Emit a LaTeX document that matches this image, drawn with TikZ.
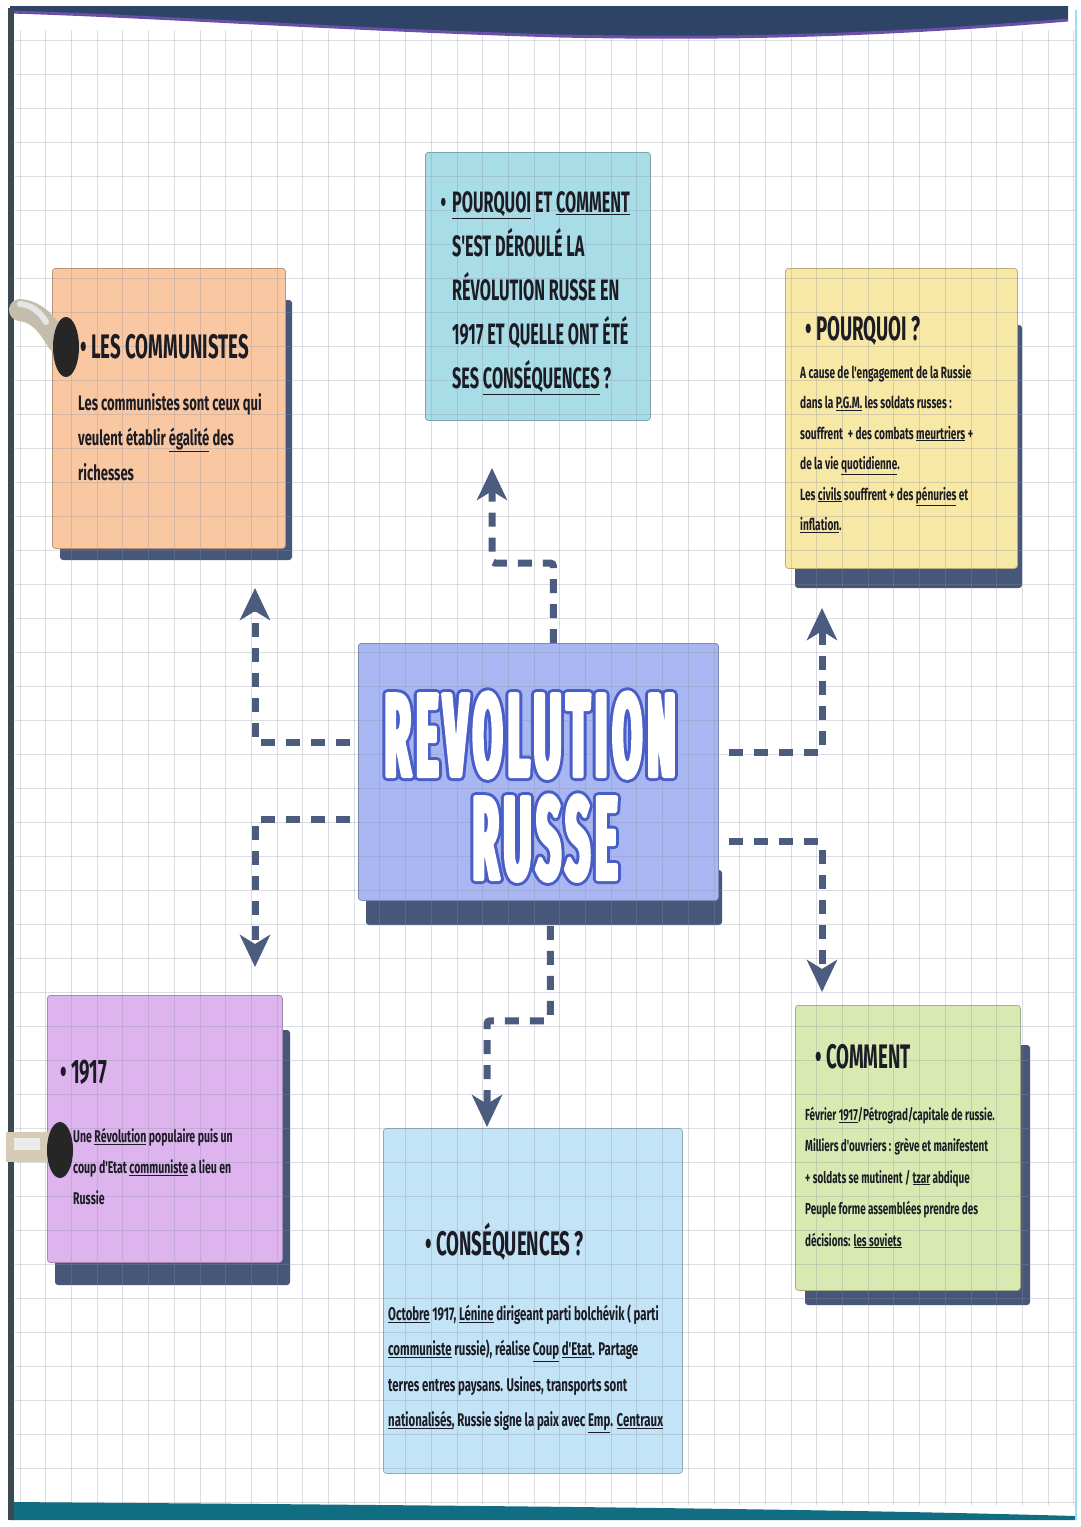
\documentclass[tikz,border=0pt]{standalone}
\usepackage{fontspec}
\usetikzlibrary{arrows.meta}
\newfontfamily\titlef[FakeStretch=0.55]{Fira Sans}
\newfontfamily\bodyf[FakeStretch=0.62]{Fira Sans}
\newfontfamily\bigf[FakeStretch=0.36,LetterSpace=4.5]{Fira Sans}
\newcommand\txtlines[2]{\vtop{\baselineskip=#1\lineskiplimit=-\maxdimen\lineskip=0pt\relax #2}}
\newcommand\outlinetext[1]{\rlap{\textcolor{white}{\special{pdf:literal direct 1 Tr 10 w 1 j 0.29 0.37 0.78 RG}#1\special{pdf:literal direct 0 Tr}}}\textcolor{white}{\special{pdf:literal direct 2 Tr 4 w 1 j 1 1 1 RG}#1\special{pdf:literal direct 0 Tr 1 w 0 j}}}
\definecolor{shadowc}{HTML}{46577A}
\definecolor{connc}{HTML}{4B5C7F}
\definecolor{orangec}{HTML}{F9C8A2}
\definecolor{yellowc}{HTML}{F8E8A6}
\definecolor{purplec}{HTML}{DDB4EE}
\definecolor{greenc}{HTML}{D8EAB1}
\definecolor{tealc}{HTML}{A8DCE7}
\definecolor{lbluec}{HTML}{C3E3F6}
\definecolor{centerc}{HTML}{A8B7F1}
\definecolor{inkc}{HTML}{1C1C24}
\definecolor{gridc}{HTML}{8A90A0}
\definecolor{bandc}{HTML}{2D4467}
\definecolor{bandp}{HTML}{6A4FA8}
\definecolor{tealband}{HTML}{106D82}
\definecolor{ringc}{HTML}{D6CCB6}
\definecolor{edgec}{HTML}{3B4A52}
\begin{document}
\begin{tikzpicture}[x=1pt,y=-1pt,
  box/.style={anchor=north west, inner sep=0pt, rounded corners=3pt, draw=#1!75!black, line width=0.8pt, fill=#1},
  conn/.style={draw=connc, line width=7pt, dash pattern=on 14pt off 11pt, rounded corners=3pt,
    -{Stealth[length=32pt,width=30pt,inset=9pt]}},
  ttl/.style={anchor=base west, inner sep=0pt, text=inkc, font=\titlef\bfseries\fontsize{34}{40}\selectfont},
  bdy/.style={anchor=base west, inner sep=0pt, text=inkc, font=\bodyf\bfseries\fontsize{#1}{#1}\selectfont},
  big/.style={inner sep=0pt, anchor=base, text height=86pt, text depth=0pt, font=\bigf\bfseries\fontsize{118}{118}\selectfont}
]
\useasboundingbox (0,0) rectangle (1080,1527);
\fill[white] (0,0) rectangle (1080,1527);

% shadows
\fill[shadowc, rounded corners=3pt] (60,300) rectangle (292,560);
\fill[shadowc, rounded corners=3pt] (795,325) rectangle (1022,588);
\fill[shadowc, rounded corners=3pt] (55,1030) rectangle (290,1285);
\fill[shadowc, rounded corners=3pt] (805,1045) rectangle (1030,1305);
\fill[shadowc, rounded corners=3pt] (366,870) rectangle (722,925);

% boxes
\node[box=tealc, minimum width=225pt, minimum height=268pt] (qbox) at (425,152) {};
\node[box=orangec, minimum width=233pt, minimum height=280pt] (commbox) at (52,268) {};
\node[box=yellowc, minimum width=232pt, minimum height=300pt] (pqbox) at (785,268) {};
\node[box=purplec, minimum width=235pt, minimum height=267pt] (ybox) at (47,995) {};
\node[box=greenc, minimum width=225pt, minimum height=285pt] (cmbox) at (795,1005) {};
\node[box=lbluec, minimum width=299pt, minimum height=345pt] (csbox) at (383,1128) {};
\node[box=centerc, minimum width=360pt, minimum height=257pt] (cbox) at (358,643) {};

% grid
\begin{scope}[draw=gridc, opacity=0.3, line width=0.8pt]
\foreach \i in {0,...,41} \draw (20+25.7*\i,30) -- (20+25.7*\i,1505);
\foreach \j in {0,...,43} \draw (15,40+34*\j) -- (1075,40+34*\j);
\end{scope}

% connectors
\coordinate (a1) at (492,468);
\coordinate (a2) at (255,588);
\coordinate (a3) at (255,967);
\coordinate (a4) at (822,608);
\coordinate (a5) at (822,992);
\coordinate (a6) at (487,1127);
\draw[conn] ([xshift=15pt]cbox.north) -- ++(0,-80) -| (a1);
\draw[conn] ([xshift=-8pt,yshift=29pt]cbox.west) -| (a2);
\draw[conn] ([xshift=-8pt,yshift=-48pt]cbox.west) -| (a3);
\draw[conn] ([xshift=10pt,yshift=19pt]cbox.east) -| (a4);
\draw[conn] ([xshift=10pt,yshift=-70pt]cbox.east) -| (a5);
\draw[conn] ([xshift=12pt,yshift=-25pt]cbox.south) -- ++(0,95) -| (a6);

% center title
\node[big] (rev) at (530,776) {\outlinetext{REVOLUTION}};
\node[big] (russe) at (545,879) {\outlinetext{RUSSE}};

% top box text
\node[ttl, font=\titlef\bfseries\fontsize{29.5}{44}\selectfont] (qtxt) at (452,212) {\txtlines{44pt}{%
 \hbox{\llap{•\hspace{6pt}}\underline{POURQUOI} ET \underline{COMMENT}}
 \hbox{S'EST DÉROULÉ LA}
 \hbox{RÉVOLUTION RUSSE EN}
 \hbox{1917 ET QUELLE ONT ÉTÉ}
 \hbox{SES \underline{CONSÉQUENCES} ?}}};

% orange box
\node[ttl] (commt) at (80,358) {• LES COMMUNISTES};
\node[bdy=21] (commb) at (78,410) {\txtlines{35pt}{%
 \hbox{Les communistes sont ceux qui}
 \hbox{veulent établir \underline{égalité} des}
 \hbox{richesses}}};

% yellow box
\node[ttl] (pqt) at (805,340) {• POURQUOI ?};
\node[bdy=16.3] (pqb) at (800,378) {\txtlines{30.5pt}{%
 \hbox{A cause de l'engagement de la Russie}
 \hbox{dans la \underline{P.G.M.} les soldats russes :}
 \hbox{souffrent \ + des combats \underline{meurtriers} +}
 \hbox{de la vie \underline{quotidienne}.}
 \hbox{Les \underline{civils} souffrent + des \underline{pénuries} et}
 \hbox{\underline{inflation}.}}};

% purple box
\node[ttl] (yt) at (60,1083) {• 1917};
\node[bdy=17] (yb) at (73,1142) {\txtlines{31pt}{%
 \hbox{Une \underline{Révolution} populaire puis un}
 \hbox{coup d'Etat \underline{communiste} a lieu en}
 \hbox{Russie}}};

% green box
\node[ttl] (cmt) at (815,1068) {• COMMENT};
\node[bdy=16] (cmb) at (805,1120) {\txtlines{31.5pt}{%
 \hbox{Février \underline{1917}/Pétrograd/capitale de russie.}
 \hbox{Milliers d'ouvriers : grève et manifestent}
 \hbox{+ soldats se mutinent / \underline{tzar} abdique}
 \hbox{Peuple forme assemblées prendre des}
 \hbox{décisions: \underline{les soviets}}}};

% bottom box
\node[ttl] (cst) at (425,1255) {• CONSÉQUENCES ?};
\node[bdy=18.4] (csb) at (388,1320) {\txtlines{35.5pt}{%
 \hbox{\underline{Octobre} 1917, \underline{Lénine} dirigeant parti bolchévik ( parti}
 \hbox{\underline{communiste} russie), réalise \underline{Coup} \underline{d'Etat}. Partage}
 \hbox{terres entres paysans. Usines, transports sont}
 \hbox{\underline{nationalisés}, Russie signe la paix avec \underline{Emp}. \underline{Centraux}}}};

% page edges
\fill[bandc] (10,6) -- (1068,6) -- (1068,20) .. controls (900,34) and (750,40) .. (560,36) .. controls (350,30) and (150,16) .. (10,12) -- cycle;
\draw[bandp, line width=3pt] (1068,20) .. controls (900,34) and (750,40) .. (560,36) .. controls (350,30) and (150,16) .. (10,12);
\fill[tealband] (10,1502) .. controls (400,1505) and (800,1508) .. (1075,1516) -- (1075,1520) -- (10,1520) -- cycle;
\fill[edgec] (8,8) rectangle (14,1520);
\draw[cyan!40, line width=1.5pt] (1076,10) -- (1076,1520);

% binder rings
\draw[ringc!80!gray, line width=22pt, line cap=round] (20,310) .. controls (38,312) and (48,325) .. (58,342);
\draw[white!80!gray, line width=6pt, line cap=round] (20,304) .. controls (32,305) and (40,312) .. (46,322);
\fill[black!85] (66,347) ellipse [x radius=13pt, y radius=30pt];
\fill[ringc] (6,1132) rectangle (54,1162);
\fill[white!85!gray] (14,1138) rectangle (40,1150);
\fill[black!85] (60,1150) ellipse [x radius=13pt, y radius=28pt];
\end{tikzpicture}
\end{document}
